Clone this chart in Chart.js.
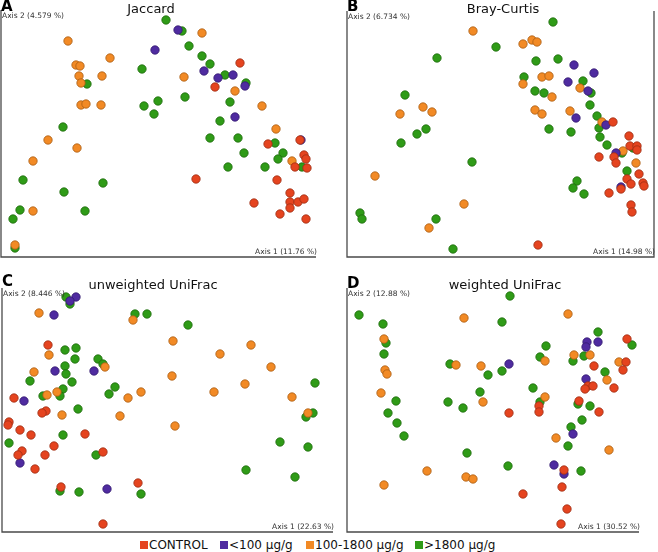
<!DOCTYPE html>
<html>
<head>
<meta charset="utf-8">
<script src="https://cdn.jsdelivr.net/npm/chart.js@4.4.1/dist/chart.umd.min.js"></script>
<style>
  body { margin: 0; background: #fff; font-family: "DejaVu Sans", sans-serif; }
  #fig { position: relative; width: 658px; height: 552px; overflow: hidden; }
  #fig canvas { position: absolute; }
  .key { position: absolute; top: 539px; font-size: 12px; line-height: 13px; color: #111; white-space: nowrap; }
  .key i { display: inline-block; width: 8px; height: 8px; margin-right: 1px; vertical-align: 0px; }
</style>
</head>
<body>
<div id="fig">
  <canvas id="panelA" width="338" height="263"></canvas>
  <canvas id="panelB" width="320" height="263"></canvas>
  <canvas id="panelC" width="340" height="275"></canvas>
  <canvas id="panelD" width="318" height="275"></canvas>
</div>
<script>
// Group names and colours
const groups = ['CONTROL', '<100 μg/g', '100-1800 μg/g', '>1800 μg/g'];
const groupColors = ['#e5441f', '#4f2ba0', '#f28a25', '#2f9b17'];
const groupBorders = ['#9c2d14', '#32196e', '#a85d14', '#1e6a0d'];

// PCoA scores (Axis 1, Axis 2) per panel and group
const jaccardControl = [[240,63],[215,87],[300,140],[268,144],[304,155],[306,159],[295,167],[307,168],[196,179],[277,180],[290,193],[254,203],[290,202],[298,202],[304,199],[290,208],[280,214],[306,219]];
const jaccardLow = [[155,50],[178,30],[204,71],[218,78],[233,75],[245,86],[235,117],[301,140]];
const jaccardMid = [[68,41],[110,58],[76,65],[80,66],[79,76],[102,76],[81,83],[81,105],[86,104],[101,105],[48,140],[77,148],[33,161],[33,211],[15,245],[202,33],[184,77],[235,91],[262,106],[276,129],[292,161]];
const jaccardHigh = [[166,20],[142,69],[87,84],[158,101],[144,106],[154,114],[63,127],[23,180],[103,183],[64,192],[20,210],[85,211],[13,219],[15,248],[182,31],[189,46],[202,56],[210,64],[225,75],[246,83],[185,97],[230,102],[220,121],[210,138],[238,138],[275,143],[244,153],[283,153],[278,159],[302,167],[228,167],[265,167]];

const brayControl = [[613,122],[629,136],[630,146],[637,146],[637,150],[614,157],[599,157],[616,163],[639,174],[627,179],[631,184],[643,183],[644,186],[621,189],[609,193],[631,205],[632,212],[538,245]];
const brayLow = [[574,65],[594,73],[568,82],[588,91],[576,118],[606,125],[616,153],[621,187]];
const brayMid = [[473,31],[423,107],[432,112],[400,114],[375,176],[464,204],[429,228],[523,44],[532,40],[537,42],[542,77],[549,76],[523,84],[580,88],[552,97],[535,110],[570,111],[542,114],[602,122],[623,151],[636,163]];
const brayHigh = [[496,47],[437,58],[405,95],[426,129],[417,134],[401,143],[472,162],[360,213],[362,219],[436,219],[453,249],[553,22],[536,61],[558,59],[524,77],[583,81],[591,93],[535,91],[544,93],[590,105],[597,116],[599,128],[549,129],[571,132],[600,137],[607,145],[633,148],[622,153],[627,171],[577,181],[573,188],[584,194]];

const unweightedControl = [[48,345],[14,398],[46,411],[42,413],[9,422],[8,425],[20,430],[31,435],[85,434],[54,446],[22,451],[18,455],[45,455],[103,452],[35,469],[61,487],[138,483],[103,524]];
const unweightedLow = [[76,297],[70,301],[54,315],[55,371],[94,371],[24,401],[20,463],[107,489]];
const unweightedMid = [[39,313],[133,320],[49,355],[105,367],[34,372],[57,392],[47,395],[141,392],[128,398],[62,415],[120,416],[173,341],[251,345],[220,354],[271,367],[172,376],[245,384],[214,392],[292,397],[308,413],[175,426]];
const unweightedHigh = [[66,297],[70,304],[135,314],[147,314],[65,350],[76,348],[75,359],[98,359],[103,364],[65,366],[66,374],[30,381],[72,382],[115,387],[63,389],[60,396],[43,396],[109,394],[78,409],[63,435],[9,443],[96,455],[60,491],[79,492],[141,494],[188,325],[315,383],[313,413],[306,417],[280,442],[308,447],[246,470],[295,477]];

const weightedControl = [[509,413],[627,339],[626,362],[594,366],[623,370],[588,386],[593,386],[585,389],[614,388],[539,406],[539,412],[579,401],[599,412],[564,470],[562,487],[523,494],[567,509],[561,524]];
const weightedLow = [[509,364],[587,342],[598,342],[586,347],[586,379],[573,434],[554,465],[564,474]];
const weightedMid = [[464,318],[384,339],[456,365],[481,366],[385,370],[387,374],[381,393],[483,402],[427,471],[466,477],[473,479],[384,485],[568,314],[545,361],[574,355],[590,355],[619,362],[607,380],[545,397],[556,438],[609,450]];
const weightedHigh = [[359,315],[383,324],[502,322],[510,296],[386,343],[384,354],[450,364],[488,375],[502,371],[396,401],[480,392],[448,402],[463,408],[388,413],[397,423],[404,436],[467,453],[508,466],[598,332],[632,345],[546,346],[540,357],[584,356],[573,361],[605,372],[533,388],[540,402],[578,404],[590,406],[582,420],[571,427],[568,446],[581,471]];

const panels = [
  { canvas: 'panelA', letter: 'A', title: 'Jaccard', axis1: 'Axis 1 (11.76 %)', axis2: 'Axis 2 (4.579 %)',
    box: [0, 0, 338, 263], frame: [1, 10, 316, 257], titleX: 151, titleY: 13, letterY: 11, rightLine: false,
    series: [jaccardControl, jaccardLow, jaccardMid, jaccardHigh] },
  { canvas: 'panelB', letter: 'B', title: 'Bray-Curtis', axis1: 'Axis 1 (14.98 %)', axis2: 'Axis 2 (6.734 %)',
    box: [338, 0, 320, 263], frame: [347, 11, 654, 257], titleX: 503, titleY: 13, letterY: 11, rightLine: true,
    series: [brayControl, brayLow, brayMid, brayHigh] },
  { canvas: 'panelC', letter: 'C', title: 'unweighted UniFrac', axis1: 'Axis 1 (22.63 %)', axis2: 'Axis 2 (8.446 %)',
    box: [0, 263, 340, 275], frame: [2, 288, 333, 532], titleX: 153, titleY: 289, letterY: 286, rightLine: false,
    series: [unweightedControl, unweightedLow, unweightedMid, unweightedHigh] },
  { canvas: 'panelD', letter: 'D', title: 'weighted UniFrac', axis1: 'Axis 1 (30.52 %)', axis2: 'Axis 2 (12.88 %)',
    box: [340, 263, 318, 275], frame: [347, 288, 639, 532], titleX: 505, titleY: 289, letterY: 288, rightLine: false,
    series: [weightedControl, weightedLow, weightedMid, weightedHigh] }
];

// frame lines and panel texts
const panelDecor = {
  id: 'panelDecor',
  beforeDatasetsDraw(chart, args, p) {
    const { ctx, chartArea: a } = chart;
    ctx.save();
    ctx.strokeStyle = '#4a4a4a';
    ctx.lineWidth = 1.3;
    ctx.beginPath();
    ctx.moveTo(a.left, a.top);
    ctx.lineTo(a.left, a.bottom);
    ctx.lineTo(a.right, a.bottom);
    if (p.rightLine) ctx.lineTo(a.right, a.top);
    ctx.stroke();
    ctx.restore();
  },
  afterDraw(chart, args, p) {
    const { ctx, chartArea: a } = chart;
    const ox = p.box[0], oy = p.box[1];
    ctx.save();
    ctx.textBaseline = 'alphabetic';
    ctx.fillStyle = '#000';
    ctx.font = 'bold 15px "DejaVu Sans"';
    ctx.textAlign = 'left';
    ctx.fillText(p.letter, p.frame[0] - ox, p.letterY - oy);
    ctx.font = '13px "DejaVu Sans"';
    ctx.fillStyle = '#111';
    ctx.textAlign = 'center';
    ctx.fillText(p.title, p.titleX - ox, p.titleY - oy);
    ctx.font = '7.5px "DejaVu Sans"';
    ctx.fillStyle = '#333';
    ctx.textAlign = 'left';
    ctx.fillText(p.axis2, a.left + 1, a.top + 8);
    ctx.textAlign = 'right';
    ctx.fillText(p.axis1, a.right + 1, a.bottom - 3);
    ctx.restore();
  }
};

panels.forEach(p => {
  const el = document.getElementById(p.canvas);
  const [bx, by, bw, bh] = p.box;
  const [x1, y1, x2, y2] = p.frame;
  el.style.left = bx + 'px';
  el.style.top = by + 'px';
  el.style.width = bw + 'px';
  el.style.height = bh + 'px';

  new Chart(el.getContext('2d'), {
    type: 'scatter',
    data: {
      datasets: p.series.map((pts, i) => ({
        label: groups[i],
        data: pts.map(([x, y]) => ({ x, y })),
        backgroundColor: groupColors[i],
        borderColor: groupBorders[i],
        borderWidth: 0.8,
        pointRadius: 4.2,
        clip: false
      }))
    },
    options: {
      responsive: false,
      animation: false,
      layout: {
        autoPadding: false,
        padding: { left: x1 - bx, top: y1 - by, right: bx + bw - x2, bottom: by + bh - y2 }
      },
      scales: {
        x: { type: 'linear', display: false, min: x1, max: x2 },
        y: { type: 'linear', display: false, min: y1, max: y2, reverse: true }
      },
      plugins: {
        legend: { display: false },
        tooltip: { enabled: false },
        panelDecor: p
      }
    },
    plugins: [panelDecor]
  });
});

// shared legend under the panels
const keyLeft = [140, 220, 306, 415];
const fig = document.getElementById('fig');
groups.forEach((g, i) => {
  const d = document.createElement('div');
  d.className = 'key';
  d.style.left = keyLeft[i] + 'px';
  const sw = document.createElement('i');
  sw.style.background = groupColors[i];
  d.appendChild(sw);
  d.appendChild(document.createTextNode(g));
  fig.appendChild(d);
});
</script>
</body>
</html>
